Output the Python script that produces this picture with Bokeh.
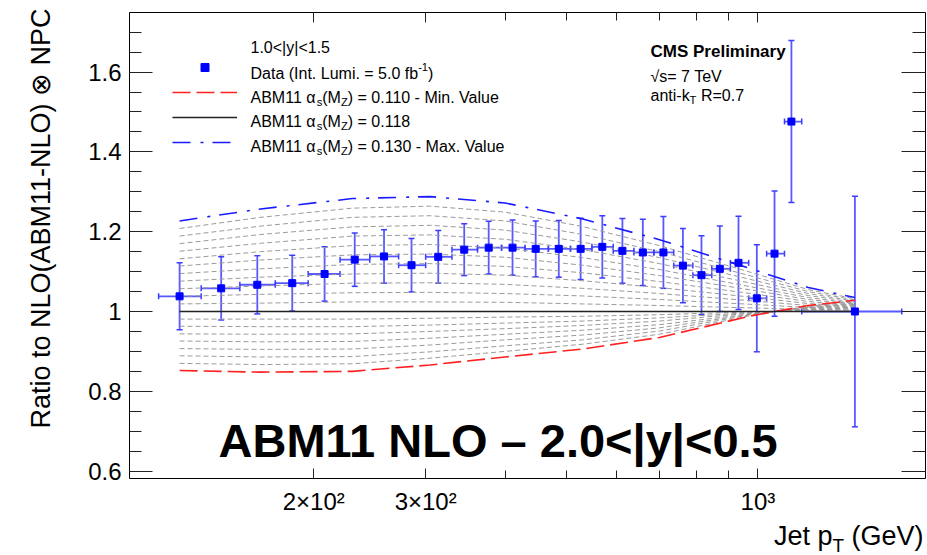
import math
from bokeh.plotting import figure
from bokeh.models import (Range1d, FixedTicker, LogAxis, LinearAxis, Whisker, TeeHead,
                          ColumnDataSource, Label, Legend, LegendItem)
from bokeh.embed import file_html
from bokeh.resources import INLINE

# ---------------- data ----------------
pt = [123, 143, 163, 185, 208, 232, 258, 285, 314, 345, 377, 411, 447, 486, 526,
      569, 612, 659, 710, 762, 815, 871, 932, 996, 1062, 1129, 1421]
pt_lo = [114, 133, 153, 174, 196, 220, 245, 272, 300, 330, 362, 395, 430, 468, 507,
         548, 592, 638, 686, 737, 790, 846, 905, 967, 1032, 1101, 1172]
pt_hi = [133, 153, 174, 196, 220, 245, 272, 300, 330, 362, 395, 430, 468, 507, 548,
         592, 638, 686, 737, 790, 846, 905, 967, 1032, 1101, 1172, 1684]
ratio = [1.038, 1.058, 1.067, 1.071, 1.094, 1.130, 1.138, 1.116, 1.137, 1.155, 1.160,
         1.160, 1.157, 1.157, 1.157, 1.162, 1.152, 1.148, 1.148, 1.115, 1.091, 1.107,
         1.122, 1.033, 1.145, 1.476, 1.000]
ratio_err = [0.084, 0.079, 0.073, 0.070, 0.068, 0.067, 0.067, 0.067, 0.066, 0.065, 0.066,
             0.069, 0.070, 0.071, 0.077, 0.078, 0.081, 0.083, 0.090, 0.093, 0.099, 0.107,
             0.117, 0.134, 0.157, 0.203, 0.289]

theory_pt = [123, 165, 230, 305, 400, 530, 700, 975, 1200, 1421]
alpha_s = ["0.110", "0.111", "0.112", "0.113", "0.114", "0.115", "0.116", "0.117", "0.118",
           "0.119", "0.120", "0.121", "0.122", "0.123", "0.124", "0.125", "0.126", "0.127",
           "0.128", "0.129", "0.130"]
theory_ratio = [
    [0.852, 0.848, 0.850, 0.866, 0.886, 0.906, 0.935, 0.989, 1.015, 1.028],  # 0.110 min
    [0.870, 0.867, 0.869, 0.883, 0.900, 0.918, 0.943, 0.990, 1.013, 1.025],
    [0.889, 0.886, 0.887, 0.899, 0.914, 0.929, 0.951, 0.992, 1.011, 1.021],
    [0.907, 0.905, 0.906, 0.916, 0.929, 0.941, 0.959, 0.993, 1.009, 1.018],
    [0.926, 0.924, 0.925, 0.933, 0.943, 0.953, 0.967, 0.994, 1.008, 1.014],
    [0.944, 0.943, 0.944, 0.950, 0.957, 0.965, 0.976, 0.996, 1.006, 1.011],
    [0.963, 0.962, 0.962, 0.966, 0.971, 0.976, 0.984, 0.997, 1.004, 1.007],
    [0.981, 0.981, 0.981, 0.983, 0.986, 0.988, 0.992, 0.999, 1.002, 1.004],
    [1.000, 1.000, 1.000, 1.000, 1.000, 1.000, 1.000, 1.000, 1.000, 1.000],  # 0.118
    [1.019, 1.021, 1.024, 1.024, 1.023, 1.019, 1.015, 1.009, 1.005, 1.003],
    [1.038, 1.043, 1.047, 1.048, 1.045, 1.039, 1.030, 1.018, 1.010, 1.006],
    [1.057, 1.064, 1.071, 1.072, 1.068, 1.058, 1.045, 1.027, 1.015, 1.009],
    [1.076, 1.086, 1.094, 1.096, 1.091, 1.077, 1.060, 1.036, 1.020, 1.012],
    [1.095, 1.107, 1.118, 1.120, 1.113, 1.097, 1.075, 1.045, 1.025, 1.015],
    [1.114, 1.129, 1.142, 1.144, 1.136, 1.116, 1.090, 1.054, 1.030, 1.018],
    [1.132, 1.150, 1.165, 1.168, 1.159, 1.135, 1.105, 1.062, 1.035, 1.020],
    [1.151, 1.171, 1.189, 1.192, 1.181, 1.155, 1.120, 1.071, 1.040, 1.023],
    [1.170, 1.193, 1.212, 1.216, 1.204, 1.174, 1.135, 1.080, 1.045, 1.026],
    [1.189, 1.214, 1.236, 1.240, 1.227, 1.193, 1.150, 1.089, 1.050, 1.029],
    [1.208, 1.236, 1.259, 1.264, 1.249, 1.213, 1.165, 1.098, 1.055, 1.032],
    [1.227, 1.257, 1.283, 1.288, 1.272, 1.232, 1.180, 1.107, 1.060, 1.035],  # 0.130 max
]

y_ticks = [0.6, 0.8, 1.0, 1.2, 1.4, 1.6]
y_minor = [0.60, 0.65, 0.70, 0.75, 0.80, 0.85, 0.90, 0.95, 1.00, 1.05, 1.10, 1.15,
           1.20, 1.25, 1.30, 1.35, 1.40, 1.45, 1.50, 1.55, 1.60, 1.65, 1.70]
y_labels = {0.6: "0.6", 0.8: "0.8", 1.0: "1", 1.2: "1.2", 1.4: "1.4", 1.6: "1.6"}
x_ticks = [200, 300, 1000]
x_minor = [400, 500, 600, 700, 800, 900]
x_labels = {200: "2×10²", 300: "3×10²", 1000: "10³"}

# axis box (ROOT frame) in data units, and the full-canvas ranges around it
X_BOX = (102.6, 1835.0)
Y_BOX = (0.5815, 1.749)
X_VIEW = (64.28, 1848.6)
Y_VIEW = (0.3885, 1.7794)

# ---------------- layout ----------------
W, H = 927, 555
FONT = "Liberation Sans"
TICK = "#222222"

p = figure(width=W, height=H, x_axis_type="log",
           x_range=Range1d(*X_VIEW), y_range=Range1d(*Y_VIEW),
           output_backend="svg", toolbar_location=None, title=None,
           min_border_left=0, min_border_right=0, min_border_top=0, min_border_bottom=0)
p.grid.visible = False
p.outline_line_color = None
p.background_fill_color = "white"
p.border_fill_color = "white"

xa = p.xaxis[0]
xa.fixed_location = Y_BOX[0]
xa.bounds = X_BOX
xa.ticker = FixedTicker(ticks=x_ticks, minor_ticks=x_minor)
xa.major_label_overrides = x_labels
xa.major_tick_in, xa.major_tick_out = 10, 0
xa.minor_tick_in, xa.minor_tick_out = 8, 0
xa.major_label_standoff = 10
xa.major_label_text_font = FONT
xa.major_label_text_font_size = "24px"
xa.major_label_text_color = "black"
xa.axis_line_color = "black"
xa.major_tick_line_color = TICK
xa.minor_tick_line_color = TICK

ya = p.yaxis[0]
ya.fixed_location = X_BOX[0]
ya.bounds = Y_BOX
ya.ticker = FixedTicker(ticks=y_ticks, minor_ticks=y_minor)
ya.major_label_overrides = y_labels
ya.major_tick_in, ya.major_tick_out = 23, 0
ya.minor_tick_in, ya.minor_tick_out = 12, 0
ya.major_label_standoff = 8
ya.major_label_text_font = FONT
ya.major_label_text_font_size = "24px"
ya.major_label_text_color = "black"
ya.axis_line_color = "black"
ya.major_tick_line_color = TICK
ya.minor_tick_line_color = TICK

top = LogAxis(fixed_location=Y_BOX[1], bounds=X_BOX,
              ticker=FixedTicker(ticks=x_ticks, minor_ticks=x_minor),
              major_tick_in=10, major_tick_out=0, minor_tick_in=8, minor_tick_out=0,
              major_label_text_font_size="0px", major_label_text_color=None,
              major_label_standoff=0, axis_line_color="black",
              major_tick_line_color=TICK, minor_tick_line_color=TICK)
p.add_layout(top, "above")
right = LinearAxis(fixed_location=X_BOX[1], bounds=Y_BOX,
                   ticker=FixedTicker(ticks=y_ticks, minor_ticks=y_minor),
                   major_tick_in=24, major_tick_out=0, minor_tick_in=13, minor_tick_out=0,
                   major_label_text_font_size="0px", major_label_text_color=None,
                   major_label_standoff=0, axis_line_color="black",
                   major_tick_line_color=TICK, minor_tick_line_color=TICK)
p.add_layout(right, "right")

# ---------------- theory curves ----------------
i_min, i_c, i_max = 0, alpha_s.index("0.118"), len(alpha_s) - 1
gray = [theory_ratio[i] for i in range(len(alpha_s)) if i not in (i_min, i_c, i_max)]
p.multi_line(xs=[theory_pt] * len(gray), ys=gray, line_color="#9a9a9a",
             line_width=1, line_dash="5 3")
r_min = p.line(theory_pt, theory_ratio[i_min], line_color="#ff2020", line_width=1.6,
               line_dash="18 6")
r_max = p.line(theory_pt, theory_ratio[i_max], line_color="#1a1aff", line_width=1.6,
               line_dash="18 10 3 9")
r_c = p.line(theory_pt, theory_ratio[i_c], line_color="#222222", line_width=1.4)

# ---------------- data ----------------
src = ColumnDataSource(dict(
    pt=pt, lo=pt_lo, hi=pt_hi, r=ratio,
    up=[r + e for r, e in zip(ratio, ratio_err)],
    dn=[r - e for r, e in zip(ratio, ratio_err)],
))
EB = "#3c3cff"
for dim, base, lower, upper in (("width", "r", "lo", "hi"), ("height", "pt", "dn", "up")):
    p.add_layout(Whisker(source=src, dimension=dim, base=base, lower=lower, upper=upper,
                         line_color=EB, line_width=1.8, line_alpha=0.85,
                         lower_head=TeeHead(size=6, line_color=EB, line_width=1.5),
                         upper_head=TeeHead(size=6, line_color=EB, line_width=1.5)))
r_data = p.scatter("pt", "r", source=src, marker="square", size=7,
                   fill_color="#0000ff", line_color="#0000ff")

# ---------------- legend (glyphs) ----------------
leg = Legend(items=[LegendItem(label=" ", renderers=[r_data]),
                    LegendItem(label=" ", renderers=[r_min]),
                    LegendItem(label=" ", renderers=[r_c]),
                    LegendItem(label=" ", renderers=[r_max])],
             location=(172, H - 151.5), glyph_width=65, glyph_height=20, spacing=5,
             padding=0, margin=0, label_width=0, label_standoff=0, label_height=20,
             label_text_font_size="8px", background_fill_alpha=0, border_line_alpha=0)
p.add_layout(leg)

# ---------------- texts ----------------
AW = {'D': 722, 'a': 556, 't': 278, ' ': 278, '(': 333, 'I': 278, 'n': 556, '.': 278,
      'L': 556, 'u': 556, 'm': 833, 'i': 222, '=': 584, 'f': 278, 'b': 556, '-': 333,
      ')': 333, 'A': 667, 'B': 667, 'M': 833, 'α': 578, 's': 500, 'Z': 611, 'V': 667,
      'l': 222, 'e': 556, 'x': 500, 'k': 500, 'T': 611, 'R': 722, 'J': 500, 'p': 556,
      'G': 778}


def tw(s, size):
    return sum(AW.get(c, 556) for c in s) * size / 1000.0


def label(text, px, py, size, bold=False, align="left", baseline="alphabetic", angle=0.0):
    # px, py: canvas pixels from the top-left corner
    p.add_layout(Label(x=px, y=H - py, x_units="screen", y_units="screen",
                       text=text, text_font=FONT, text_font_size=f"{size:.1f}px",
                       text_font_style="bold" if bold else "normal", text_color="black",
                       text_align=align, text_baseline=baseline, angle=angle))


def rich(parts, px, py, size, sub_dy=0.3, right_edge=None):
    scales = {"n": (1.0, 0.0), "sub": (0.7, sub_dy), "sup": (0.7, -0.38)}
    total = sum(tw(s, size * scales[k][0]) for s, k in parts)
    x = (right_edge - total) if right_edge is not None else px
    for s, k in parts:
        f, dy = scales[k]
        body = s.lstrip(" ")
        x += tw(s[:len(s) - len(body)], size * f)
        label(body, x, py + dy * size, size * f)
        x += tw(body, size * f)


LS = 16
label("1.0<|y|<1.5", 250, 47, LS)
rich([("Data (Int. Lumi. = 5.0 fb", "n"), ("-1", "sup"), (")", "n")], 250, 73, LS)
for yb, tail in ((96.5, ") = 0.110 - Min. Value"), (121, ") = 0.118"),
                 (145.5, ") = 0.130 - Max. Value")):
    rich([("ABM11 α", "n"), ("s", "sub"), ("(M", "n"), ("Z", "sub"), (tail, "n")],
         250, yb, LS)

label("CMS Preliminary", 650, 51, 17, bold=True)
label("√s= 7 TeV", 650, 76, LS)
rich([("anti-k", "n"), ("T", "sub"), (" R=0.7", "n")], 650, 95, LS)

label("ABM11 NLO – 2.0<|y|<0.5", 218, 440, 47, bold=True)

rich([("Jet p", "n"), ("T", "sub"), (" (GeV)", "n")], 0, 535, 27, sub_dy=0.36,
     right_edge=923)
label("Ratio to NLO(ABM11-NLO) ⊗ NPC", 40, 428, 27, angle=math.pi / 2)

open("out.html", "w").write(file_html(p, INLINE))
